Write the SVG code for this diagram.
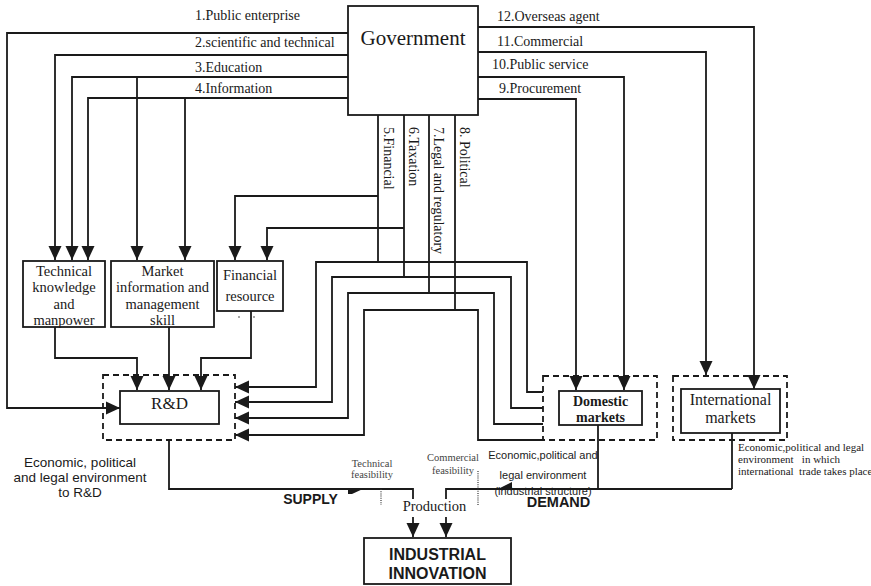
<svg xmlns="http://www.w3.org/2000/svg" width="871" height="586" viewBox="0 0 871 586">
<style>
.bg{fill:#fff}
.box{fill:#fff;stroke:#1a1a1a;stroke-width:1.8}
.dash{fill:none;stroke:#1a1a1a;stroke-width:1.8;stroke-dasharray:6 4}
.ln{fill:none;stroke:#1a1a1a;stroke-width:1.8}
.arr{fill:none;stroke:#1a1a1a;stroke-width:1.8;marker-end:url(#ah)}
.dot{fill:none;stroke:#333;stroke-width:1.2;stroke-dasharray:1 1.2}
.serif{font-family:"Liberation Serif","Times New Roman",serif;fill:#1a1a1a}
.sans{font-family:"Liberation Sans",Arial,sans-serif;fill:#1a1a1a}
.lbl{font-size:14px}
.node{font-size:14.5px;text-anchor:middle}
.small{font-size:10.5px;fill:#444;text-anchor:middle}
.bold{font-weight:bold}
</style>
<defs>
<marker id="ah" viewBox="0 0 14 14" refX="14" refY="7" markerWidth="14" markerHeight="14" markerUnits="userSpaceOnUse" orient="auto">
<path d="M0,0.5 L14,7 L0,13.5 z" fill="#1a1a1a"/>
</marker>
</defs>
<rect class="bg" x="0" y="0" width="871" height="586"/>

<g id="connectors">
<path class="arr" d="M348,33 H7 V408 H120"/>
<path class="arr" d="M348,55 H55 V260"/>
<path class="arr" d="M348,77 H72 V260"/>
<path class="arr" d="M137,77 V260"/>
<path class="arr" d="M348,98 H88 V260"/>
<path class="arr" d="M185,98 V260"/>
<path class="arr" d="M478,27 H754 V389"/>
<path class="arr" d="M478,52 H706 V375"/>
<path class="arr" d="M478,77 H624 V390"/>
<path class="arr" d="M478,99 H576 V390"/>
<path class="ln" d="M378,115 V262"/>
<path class="ln" d="M404,115 V277"/>
<path class="ln" d="M429,115 V293"/>
<path class="ln" d="M455,115 V310"/>
<path class="arr" d="M378,196 H235 V260"/>
<path class="arr" d="M404,228 H267 V260"/>
<path class="arr" d="M543,392 H527 V262 H316 V387 H235"/>
<path class="arr" d="M543,408 H511 V277 H332 V402 H235"/>
<path class="arr" d="M543,424 H494 V293 H348 V418 H235"/>
<path class="arr" d="M543,440 H478 V310 H364 V435 H235"/>
<path class="arr" d="M55,327 V358 H137 V390"/>
<path class="arr" d="M169,327 V390"/>
<path class="arr" d="M251,311 V358 H201 V390"/>
<path class="ln" d="M169,440 V489 H413 V499"/>
<path class="ln" d="M446,499 V489 H732"/>
<path class="ln" d="M598,425 V489"/>
<path class="ln" d="M732,433 V489"/>
<path class="arr" d="M413,517 V537"/>
<path class="arr" d="M446,517 V537"/>
<path class="dot" d="M381,489 V505"/>
<path class="dot" d="M478,471 V505"/>
<polygon points="348,488 365,488 352,494 348,494" fill="#1a1a1a"/>
<polygon points="496,490 512,482 512,490" fill="#1a1a1a"/>
</g>

<g id="government">
<rect class="box" x="348" y="6" width="130" height="109"/>
<text class="serif" x="413" y="45" font-size="21" text-anchor="middle">Government</text>
</g>

<g id="link-labels">
<text class="serif lbl" x="195" y="20">1.Public enterprise</text>
<text class="serif lbl" x="195" y="47">2.scientific and technical</text>
<text class="serif lbl" x="195" y="72">3.Education</text>
<text class="serif lbl" x="195" y="93">4.Information</text>
<text class="serif lbl" x="497" y="21">12.Overseas agent</text>
<text class="serif lbl" x="497" y="46">11.Commercial</text>
<text class="serif lbl" x="492" y="69">10.Public service</text>
<text class="serif lbl" x="499" y="93">9.Procurement</text>
<text class="serif lbl" transform="translate(384,127) rotate(90)">5.Financial</text>
<text class="serif lbl" transform="translate(409,127) rotate(90)">6.Taxation</text>
<text class="serif lbl" transform="translate(434,127) rotate(90)">7.Legal and regulatory</text>
<text class="serif lbl" transform="translate(460,127) rotate(90)">8. Political</text>
</g>

<g id="technical-knowledge">
<rect class="box" x="23" y="261" width="82" height="66"/>
<text class="serif node" x="64" y="276">Technical</text>
<text class="serif node" x="64" y="292">knowledge</text>
<text class="serif node" x="64" y="309">and</text>
<text class="serif node" x="64" y="325">manpower</text>
</g>

<g id="market-information">
<rect class="box" x="111" y="261" width="103" height="66"/>
<text class="serif node" x="162.5" y="276">Market</text>
<text class="serif node" x="162.5" y="292">information and</text>
<text class="serif node" x="162.5" y="309">management</text>
<text class="serif node" x="162.5" y="325">skill</text>
</g>

<g id="financial-resource">
<rect class="box" x="217" y="261" width="66" height="50"/>
<text class="serif node" x="250" y="280">Financial</text>
<text class="serif node" x="250" y="301">resource</text>
<circle cx="239" cy="317" r="0.8" fill="#333"/>
<circle cx="254" cy="317" r="0.8" fill="#333"/>
</g>

<g id="rd">
<rect class="dash" x="103" y="375" width="132" height="65"/>
<rect class="box" x="120" y="391" width="99" height="33"/>
<text class="serif" x="169.5" y="409" font-size="17" text-anchor="middle">R&amp;D</text>
</g>

<g id="domestic-markets">
<rect class="dash" x="543" y="376" width="114" height="64"/>
<rect class="box" x="559" y="391" width="83" height="34"/>
<text class="serif bold" x="600.5" y="406" font-size="14" text-anchor="middle">Domestic</text>
<text class="serif bold" x="600.5" y="422" font-size="14" text-anchor="middle">markets</text>
</g>

<g id="international-markets">
<rect class="dash" x="673" y="376" width="114" height="64"/>
<rect class="box" x="681" y="389" width="99" height="44"/>
<text class="serif" x="730.5" y="405" font-size="16" text-anchor="middle">International</text>
<text class="serif" x="730.5" y="423" font-size="16" text-anchor="middle">markets</text>
</g>

<g id="industrial-innovation">
<rect class="box" x="364" y="538" width="147" height="46"/>
<text class="sans bold" x="437.5" y="560" font-size="16" text-anchor="middle">INDUSTRIAL</text>
<text class="sans bold" x="437.5" y="579" font-size="16" text-anchor="middle">INNOVATION</text>
</g>

<g id="annotations">
<text class="sans" x="80" y="467" font-size="13.5" text-anchor="middle">Economic, political</text>
<text class="sans" x="80" y="482" font-size="13.5" text-anchor="middle">and legal environment</text>
<text class="sans" x="80" y="497" font-size="13.5" text-anchor="middle">to R&amp;D</text>
<text class="sans bold" x="310.5" y="504" font-size="14" text-anchor="middle">SUPPLY</text>
<text class="sans bold" x="558.5" y="507" font-size="14.5" text-anchor="middle">DEMAND</text>
<text class="serif small" x="372" y="467">Technical</text>
<text class="serif small" x="372" y="478">feasibility</text>
<text class="serif small" x="453" y="461">Commercial</text>
<text class="serif small" x="453" y="474">feasibility</text>
<text class="serif" x="434.5" y="511" font-size="14.5" text-anchor="middle">Production</text>
<text class="sans" x="543" y="459" font-size="11" text-anchor="middle">Economic,political and</text>
<text class="sans" x="543" y="479" font-size="11" text-anchor="middle">legal environment</text>
<text class="sans" x="543" y="495" font-size="11" fill="#444" text-anchor="middle">(industrial structure)</text>
<text class="serif" x="738" y="451" font-size="11" fill="#333">Economic,political and legal</text>
<text class="serif" x="738" y="463" font-size="11" fill="#333" style="white-space:pre">environment   in which</text>
<text class="serif" x="738" y="475" font-size="11" fill="#333" style="white-space:pre">international  trade takes place</text>
</g>
</svg>
